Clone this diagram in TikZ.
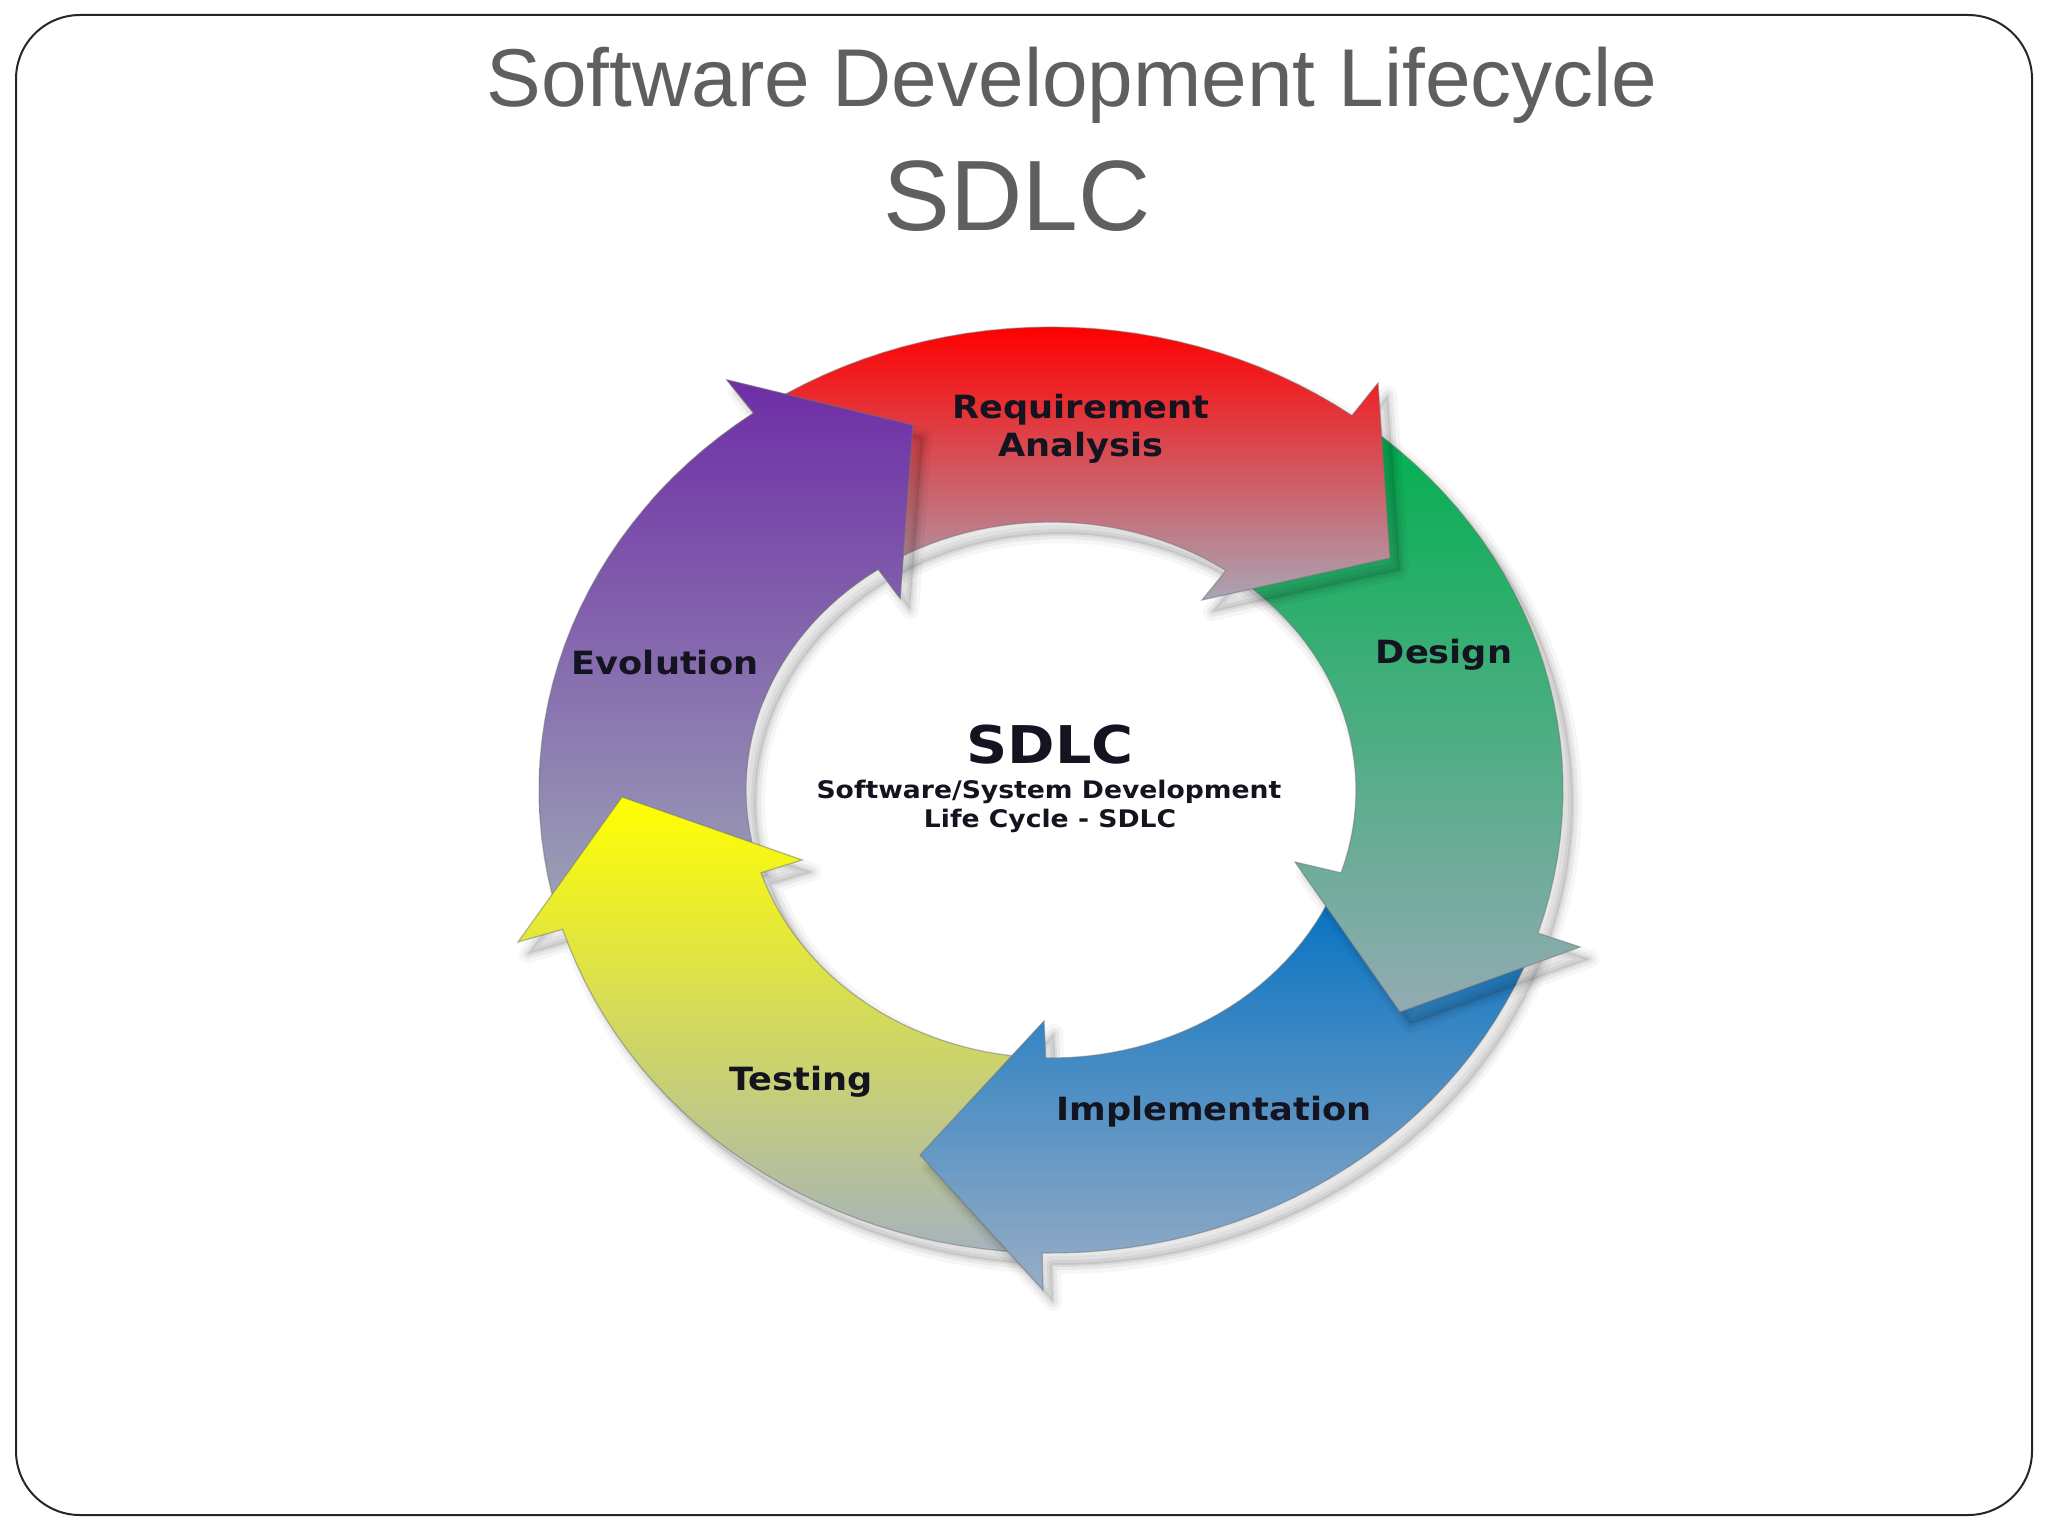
\documentclass[tikz,border=0pt]{standalone}
\usepackage{fontspec}
\usepackage{graphicx}
\setmainfont{Liberation Sans}
\newfontfamily\dvfont{DejaVu Sans}
\definecolor{titlegrey}{HTML}{5F5F5F}
\definecolor{labelink}{HTML}{141420}
\definecolor{purTop}{HTML}{6E2DA6}
\definecolor{purBot}{HTML}{9CA3B6}
\definecolor{redTop}{HTML}{FF0000}
\definecolor{redBot}{HTML}{A9A5B5}
\definecolor{grnTop}{HTML}{00B04E}
\definecolor{grnBot}{HTML}{93ABB3}
\definecolor{bluTop}{HTML}{0070C2}
\definecolor{bluBot}{HTML}{98ADC6}
\definecolor{yelTop}{HTML}{FFFF00}
\definecolor{yelBot}{HTML}{A6B3BC}
\newcommand\dropshadow[1]{%
  \path[shift={(10,12)}, #1, draw=black, draw opacity=0.035, line width=9pt, line join=round];
  \path[shift={(10,12)}, #1, draw=black, draw opacity=0.05, line width=5pt, line join=round];
  \path[shift={(10,12)}, #1, draw=black, draw opacity=0.06, line width=2pt, line join=round, fill=black, fill opacity=0.09];
}
\tikzset{
  arrowedge/.style={draw=black!55, draw opacity=0.5, line width=0.6pt, line join=miter},
  lbl/.style={anchor=base, inner sep=0pt, text=labelink, font=\dvfont\bfseries\fontsize{16}{19}\selectfont},
  pPurple/.style={insert path={
    ({1051+512*cos(164.5)},{790+463*sin(164.5)}) -- ({1051+305*cos(164)},{790+268*sin(164)})
    -- plot[domain=164:235.5,samples=30] ({1051+305*cos(\x)},{790+268*sin(\x)})
    -- (900,598) -- (913,425) -- (727,380)
    -- plot[domain=234.5:164.5,samples=30] ({1051+512*cos(\x)},{790+463*sin(\x)}) -- cycle}},
  pRed/.style={insert path={
    ({1051+512*cos(236.5)},{790+463*sin(236.5)}) -- ({1051+305*cos(237.5)},{790+268*sin(237.5)})
    -- plot[domain=237.5:305,samples=30] ({1051+305*cos(\x)},{790+268*sin(\x)})
    -- (1202,600) -- (1390,558) -- (1378,383)
    -- plot[domain=306:236.5,samples=30] ({1051+512*cos(\x)},{790+463*sin(\x)}) -- cycle}},
  pGreen/.style={insert path={
    ({1051+512*cos(308)},{790+463*sin(308)}) -- ({1051+305*cos(307)},{790+268*sin(307)})
    -- plot[domain=307:378,samples=30] ({1051+305*cos(\x)},{790+268*sin(\x)})
    -- (1295,862) -- (1400,1012) -- (1580,947)
    -- plot[domain=378:308,samples=30] ({1051+512*cos(\x)},{790+463*sin(\x)}) -- cycle}},
  pBlue/.style={insert path={
    ({1051+512*cos(20)},{790+463*sin(20)}) -- ({1051+305*cos(20)},{790+268*sin(20)})
    -- plot[domain=20:91,samples=30] ({1051+305*cos(\x)},{790+268*sin(\x)})
    -- (1044,1021) -- (920,1155) -- (1043,1290)
    -- plot[domain=91:20,samples=30] ({1051+512*cos(\x)},{790+463*sin(\x)}) -- cycle}},
  pYellow/.style={insert path={
    ({1051+512*cos(93)},{790+463*sin(93)}) -- ({1051+305*cos(93)},{790+268*sin(93)})
    -- plot[domain=93:162,samples=30] ({1051+305*cos(\x)},{790+268*sin(\x)})
    -- (802,860) -- (622,797) -- (518,942)
    -- plot[domain=162.5:93,samples=30] ({1051+512*cos(\x)},{790+463*sin(\x)}) -- cycle}},
}
\begin{document}
\begin{tikzpicture}[x=0.5pt,y=-0.5pt]
\useasboundingbox (0,0) rectangle (2048,1536);
\fill[white] (0,0) rectangle (2048,1536);
\draw[black!85, line width=1pt, rounded corners=32pt] (16,15) rectangle (2032,1515);

\node[anchor=base, inner sep=0pt, text=titlegrey] (title) at (1072,106)
  {\fontsize{41}{48}\selectfont Software Development Lifecycle};
\node[anchor=base, inner sep=0pt, text=titlegrey] (subtitle) at (1017,230)
  {\fontsize{50}{60}\selectfont SDLC};

% arrows: purple, yellow, blue, green, red, then purple head again
\dropshadow{pPurple}
\path[pPurple, top color=purTop, bottom color=purBot, arrowedge];
\dropshadow{pYellow}
\path[pYellow, top color=yelTop, bottom color=yelBot, arrowedge];
\dropshadow{pBlue}
\path[pBlue, top color=bluTop, bottom color=bluBot, arrowedge];
\dropshadow{pGreen}
\path[pGreen, top color=grnTop, bottom color=grnBot, arrowedge];
\dropshadow{pRed}
\path[pRed, top color=redTop, bottom color=redBot, arrowedge];
\begin{scope}
  \clip[pRed];
  \dropshadow{pPurple}
\end{scope}
\begin{scope}
  \clip (650,330) rectangle (1000,700);
  \path[pPurple, top color=purTop, bottom color=purBot, arrowedge];
\end{scope}

% labels
\node[lbl] (lblReqA) at (1081,418) {\scalebox{1.1}[1]{Requirement}};
\node[lbl] (lblReqB) at (1081,456) {\scalebox{1.1}[1]{Analysis}};
\node[lbl] (lblDesign) at (1444,663) {\scalebox{1.1}[1]{Design}};
\node[lbl] (lblImpl) at (1214,1120) {\scalebox{1.1}[1]{Implementation}};
\node[lbl] (lblTest) at (801,1090) {\scalebox{1.1}[1]{Testing}};
\node[lbl] (lblEvol) at (665,674) {\scalebox{1.1}[1]{Evolution}};

\node[lbl, font=\dvfont\bfseries\fontsize{26}{31}\selectfont] (centerSDLC) at (1050,763) {\scalebox{1.1}[1]{SDLC}};
\node[lbl, font=\dvfont\bfseries\fontsize{12.1}{14}\selectfont] (centerL1) at (1049,798) {\scalebox{1.1}[1]{Software/System Development}};
\node[lbl, font=\dvfont\bfseries\fontsize{12.1}{14}\selectfont] (centerL2) at (1050,827) {\scalebox{1.1}[1]{Life Cycle - SDLC}};
\end{tikzpicture}
\end{document}
